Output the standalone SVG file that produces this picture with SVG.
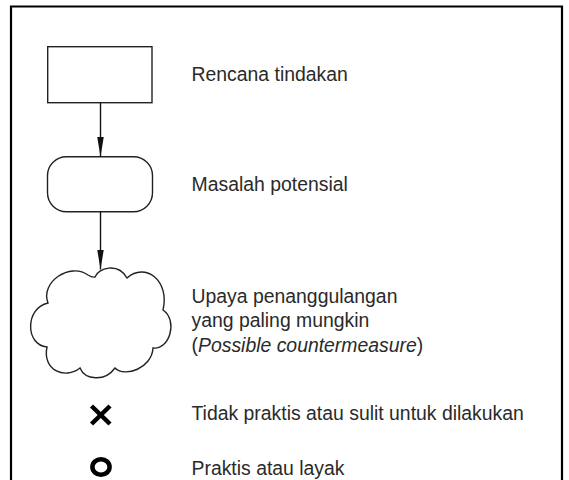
<svg xmlns="http://www.w3.org/2000/svg" width="569" height="480" viewBox="0 0 569 480">
<style>
.shape{fill:#fff;stroke:#222;stroke-width:1.4}
.conn{stroke:#111;stroke-width:1.4;fill:none}
.lbl{font-family:"Liberation Sans",Arial,sans-serif;font-size:19.4px;fill:#2a2a2a}
.mark{stroke:#000;stroke-width:4.5;fill:none}
</style>
<defs>
<marker id="ah" viewBox="0 0 20 7" refX="20" refY="3.5" markerWidth="20" markerHeight="7" markerUnits="userSpaceOnUse" orient="auto">
<path d="M0,0.2 L20,3.5 L0,6.8 z" fill="#111"/>
</marker>
</defs>
<rect x="0" y="0" width="569" height="480" fill="#fff"/>
<path d="M11,482 L11,6.5 L562,6.5 L562,482" fill="none" stroke="#000" stroke-width="2.2"/>
<g id="node-rencana">
<rect class="shape" x="47.7" y="46.7" width="104.3" height="56"/>
</g>
<g id="node-masalah">
<rect class="shape" x="47.5" y="156.7" width="105" height="55" rx="19" ry="19"/>
</g>
<g id="node-upaya">
<path class="shape" d="M48,303 C40,282 70,262 88,275 Q92,277.5 95,277 C98,268 118,262 127,278 C145,262 170,280 163,310 C178,320 170,350 153,348 C152,368 125,378 115,368 C105,382 85,380 80,368 C65,380 42,370 47,347 C25,345 25,308 48,303 Z"/>
</g>
<g id="connectors">
<line class="conn" x1="100.5" y1="102.7" x2="100.5" y2="156.7" marker-end="url(#ah)"/>
<line class="conn" x1="100.5" y1="211.7" x2="100.5" y2="269.5" marker-end="url(#ah)"/>
</g>
<g id="mark-x">
<line class="mark" x1="91.5" y1="406" x2="110" y2="424"/>
<line class="mark" x1="110" y1="406" x2="91.5" y2="424"/>
</g>
<g id="mark-o">
<ellipse class="mark" cx="101" cy="467" rx="8.6" ry="7.8"/>
</g>
<g id="labels">
<text class="lbl" x="191.5" y="81">Rencana tindakan</text>
<text class="lbl" x="191.5" y="191">Masalah potensial</text>
<text class="lbl" x="191.5" y="302.5">Upaya penanggulangan</text>
<text class="lbl" x="191.5" y="327">yang paling mungkin</text>
<text class="lbl" x="191.5" y="351.5">(<tspan font-style="italic">Possible countermeasure</tspan>)</text>
<text class="lbl" x="191.5" y="420">Tidak praktis atau sulit untuk dilakukan</text>
<text class="lbl" x="191.5" y="475">Praktis atau layak</text>
</g>
</svg>
